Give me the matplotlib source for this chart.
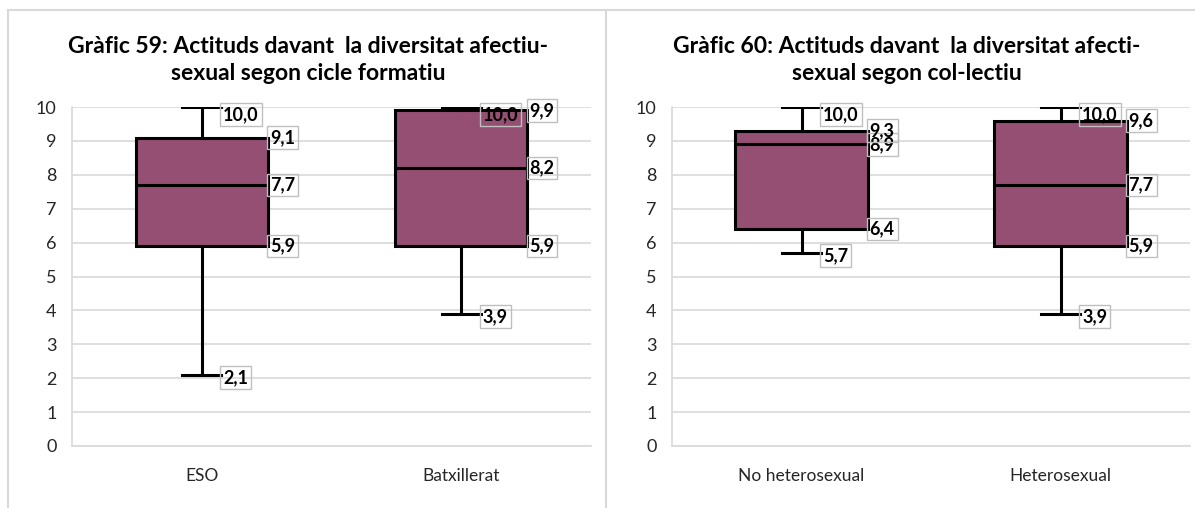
import matplotlib
matplotlib.use("Agg")
import matplotlib.pyplot as plt
from matplotlib.lines import Line2D

# ── Data ──────────────────────────────────────────────────────────────────────
CICLE_CATS  = ["ESO", "Batxillerat"]
CICLE_MIN   = [2.1, 3.9]
CICLE_Q1    = [5.9, 5.9]
CICLE_MED   = [7.7, 8.2]
CICLE_Q3    = [9.1, 9.9]
CICLE_MAX   = [10.0, 10.0]

COL_CATS    = ["No heterosexual", "Heterosexual"]
COL_MIN     = [5.7, 3.9]
COL_Q1      = [6.4, 5.9]
COL_MED     = [8.9, 7.7]
COL_Q3      = [9.3, 9.6]
COL_MAX     = [10.0, 10.0]

TITLE_59 = "Gràfic 59: Actituds davant  la diversitat afectiu-\nsexual segon cicle formatiu"
TITLE_60 = "Gràfic 60: Actituds davant  la diversitat afecti-\nsexual segon col-lectiu"

# ── Style ─────────────────────────────────────────────────────────────────────
C_BOX    = "#954F72"
C_GRID   = "#D9D9D9"
C_LABEL  = "#BFBFBF"
FONT     = ["Lato", "DejaVu Sans"]

plt.rcParams["font.family"] = FONT

W, H = 1195, 508
fig = plt.figure(figsize=(W / 100, H / 100), dpi=100)


def fmt(v):
    return f"{v:.1f}".replace(".", ",")


def draw_panel(rect, cats, lo, q1, med, q3, hi, title, title_x):
    ax = fig.add_axes(rect)
    stats = [dict(whislo=a, q1=b, med=c, q3=d, whishi=e, label=n)
             for n, a, b, c, d, e in zip(cats, lo, q1, med, q3, hi)]
    lw = 2.2
    ax.bxp(stats, positions=[0, 1], widths=0.51, capwidths=0.15,
           showfliers=False, patch_artist=True,
           boxprops=dict(facecolor=C_BOX, edgecolor="black", linewidth=lw),
           medianprops=dict(color="black", linewidth=lw),
           whiskerprops=dict(color="black", linewidth=lw),
           capprops=dict(color="black", linewidth=lw))

    ax.set_xlim(-0.5, 1.5)
    ax.set_ylim(0, 10)
    ax.set_yticks(range(0, 11))
    ax.yaxis.grid(True, color=C_GRID, linewidth=1.2)
    ax.set_axisbelow(True)
    for s in ("top", "right"):
        ax.spines[s].set_visible(False)
    for s in ("left", "bottom"):
        ax.spines[s].set_color(C_GRID)
        ax.spines[s].set_linewidth(1.2)
    ax.tick_params(length=0, labelsize=13, colors="#262626")
    ax.tick_params(axis="y", pad=11)
    ax.tick_params(axis="x", pad=16, labelsize=12.5)
    ax.set_xticks([0, 1])
    ax.set_xticklabels(cats)

    bbox = dict(boxstyle="square,pad=0.16", facecolor="none",
                edgecolor=C_LABEL, linewidth=1.0)
    for i in range(len(cats)):
        # data labels on the right of the box edge / whisker caps
        xr = i + 0.255 + 0.008
        xc = i + 0.075 + 0.008
        for v in (q1[i], med[i], q3[i]):
            ax.text(xr, v, fmt(v), ha="left", va="center", fontsize=13,
                    fontweight="bold", bbox=bbox, zorder=6)
        ax.text(xc, hi[i] + 0.02, fmt(hi[i]), ha="left", va="top",
                fontsize=13, fontweight="bold", bbox=bbox, zorder=6)
        ax.text(xc, lo[i] - 0.08, fmt(lo[i]), ha="left", va="center",
                fontsize=13, fontweight="bold", bbox=bbox, zorder=6)

    fig.text(title_x / W, 1 - 60 / H, title, ha="center", va="center",
             fontsize=16.5, fontweight="bold", linespacing=1.35)
    return ax


draw_panel([72 / W, 62 / H, 519 / W, 339 / H],
           CICLE_CATS, CICLE_MIN, CICLE_Q1, CICLE_MED, CICLE_Q3, CICLE_MAX,
           TITLE_59, 308)
draw_panel([672 / W, 62 / H, 518 / W, 339 / H],
           COL_CATS, COL_MIN, COL_Q1, COL_MED, COL_Q3, COL_MAX,
           TITLE_60, 907)

# panel frames
for xs, ys in (([8 / W, 1], [1 - 10 / H, 1 - 10 / H]),
               ([8 / W, 8 / W], [0, 1 - 10 / H]),
               ([606 / W, 606 / W], [0, 1 - 10 / H])):
    fig.add_artist(Line2D(xs, ys, color=C_GRID, linewidth=1.5,
                          transform=fig.transFigure))

fig.savefig("out.png", dpi=100, facecolor="white")
